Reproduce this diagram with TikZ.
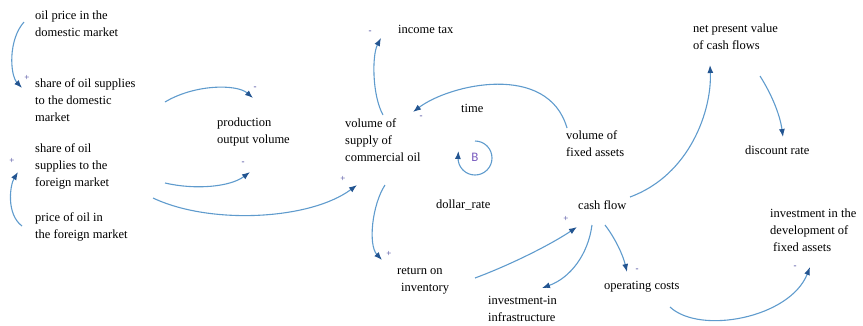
\documentclass[tikz,border=0pt]{standalone}
\usepackage{fontspec}
\setmainfont{Liberation Serif}
\newfontfamily\loopfont{Carlito}
\usetikzlibrary{arrows.meta}
\definecolor{linkblue}{RGB}{95,155,205}
\definecolor{tipblue}{RGB}{35,85,145}
\definecolor{signblue}{RGB}{60,60,150}
\definecolor{loopletter}{RGB}{120,90,190}
\tikzset{
  var/.style={anchor=west, inner sep=0pt, align=left,
    font=\fontsize{12.5}{17}\selectfont, text=black},
  link/.style={draw=linkblue, line width=1.1pt,
    -{Latex[length=8pt,width=6pt,color=tipblue]}},
  sign/.style={inner sep=0pt, font=\fontsize{9}{9}\selectfont, text=signblue},
}
\begin{document}
\begin{tikzpicture}[x=1pt,y=-1pt]
\useasboundingbox (0,0) rectangle (863,325);

% variables
\node[var] (oilDom)      at (35,23.5)  {oil price in the\\domestic market};
\node[var] (shareDom)    at (35,100)   {share of oil supplies\\to the domestic\\market};
\node[var] (prod)        at (217,131.5){production\\output volume};
\node[var] (shareFor)    at (35,166)   {share of oil\\supplies to the\\foreign market};
\node[var] (priceFor)    at (35,227)   {price of oil in\\the foreign market};
\node[var] (supply)      at (345,140)  {volume of\\supply of\\commercial oil};
\node[var] (incomeTax)   at (398,29)   {income tax};
\node[var] (timeV)       at (461,108)  {time};
\node[var] (fixedAssets) at (566,143.5){volume of\\fixed assets};
\node[var] (dollar)      at (436,205)  {dollar\_rate};
\node[var] (retInv)      at (397,281)  {return on\\\hspace{4pt}inventory};
\node[var] (cash)        at (578,205)  {cash flow};
\node[var] (infra)       at (488,308.5){investment-in\\infrastructure};
\node[var] (opcost)      at (604,287)  {operating costs};
\node[var] (devFixed)    at (770,230)  {investment in the\\development of\\\hspace{3pt}fixed assets};
\node[var] (npv)         at (693,37)   {net present value\\of cash flows};
\node[var] (discount)    at (745,150)  {discount rate};

% causal links
\draw[link] ([shift={(-11,-1.5)}]oilDom.west) .. controls +(-16,18) and +(-12,-13) ..
  ([shift={(-13,-12)}]shareDom.west) node[sign,pos=1,xshift=5pt,yshift=10pt] {+};
\draw[link] ([shift={(130,2)}]shareDom.west) .. controls +(30,-18) and +(-16,-14) ..
  ([shift={(36,-33.5)}]prod.west) node[sign,pos=1,xshift=2pt,yshift=10pt] {-};
\draw[link] ([shift={(130,17)}]shareFor.west) .. controls +(30,7) and +(-20,15) ..
  ([shift={(33,40.5)}]prod.west) node[sign,pos=1,xshift=-7pt,yshift=9pt] {-};
\draw[link] ([shift={(118,32)}]shareFor.west) .. controls +(57,27) and +(-47,35) ..
  ([shift={(12,45)}]supply.west) node[sign,pos=1,xshift=-14pt,yshift=6pt] {+};
\draw[link] ([shift={(-13,-1)}]priceFor.west) .. controls +(-16,-12) and +(-8,13) ..
  ([shift={(-17,6)}]shareFor.west) node[sign,pos=1,xshift=-6pt,yshift=11pt] {+};
\draw[link] ([shift={(38,-25)}]supply.west) .. controls +(-11,-20) and +(-9,17) ..
  ([shift={(-17,9)}]incomeTax.west) node[sign,pos=1,xshift=-11pt,yshift=6pt] {-};
\draw[link] ([shift={(1,-15.5)}]fixedAssets.west) .. controls +(-19,-66) and +(37,-28) ..
  ([shift={(68,-28)}]supply.west) node[sign,pos=1,xshift=8pt,yshift=-5pt] {-};
\draw[link] ([shift={(40,45)}]supply.west) .. controls +(-13,20) and +(-14,-15) ..
  ([shift={(-15,-21)}]retInv.west) node[sign,pos=1,xshift=7pt,yshift=6pt] {+};
\draw[link] ([shift={(78,-3)}]retInv.west) .. controls +(35,-13) and +(-27,18) ..
  ([shift={(-1,22)}]cash.west) node[sign,pos=1,xshift=-11pt,yshift=8pt] {+};
\draw[link] ([shift={(14,20)}]cash.west) .. controls +(-4,30) and +(28,-10) ..
  ([shift={(54,-20.5)}]infra.west);
\draw[link] ([shift={(27,20)}]cash.west) .. controls +(10,13) and +(-4,-17) ..
  ([shift={(23,-15)}]opcost.west) node[sign,pos=1,xshift=10pt,yshift=2pt] {-};
\draw[link] ([shift={(66,20)}]opcost.west) .. controls +(30,28) and +(-20,51) ..
  ([shift={(40,37)}]devFixed.west) node[sign,pos=1,xshift=-15pt,yshift=0pt] {-};
\draw[link] ([shift={(52,-8)}]cash.west) .. controls +(60,-22) and +(2,45) ..
  ([shift={(17,28)}]npv.west);
\draw[link] ([shift={(67,39)}]npv.west) .. controls +(12,19) and +(-3,-22) ..
  ([shift={(38,-13)}]discount.west);

% balancing loop marker
\node[inner sep=0pt, font=\loopfont\fontsize{13}{13}\selectfont, text=loopletter]
  (loopB) at (475,157) {B};
\draw[link] ([shift={(0,-16)}]loopB.center)
  .. controls +(9.4,0) and +(0,-9.4) .. ([shift={(17,1)}]loopB.center)
  .. controls +(0,9.4) and +(9.4,0) .. ([shift={(0,18)}]loopB.center)
  .. controls +(-9.4,0) and +(0,9.4) .. ([shift={(-17,1)}]loopB.center)
  -- ([shift={(-16.6,-6)}]loopB.center);
\end{tikzpicture}
\end{document}
